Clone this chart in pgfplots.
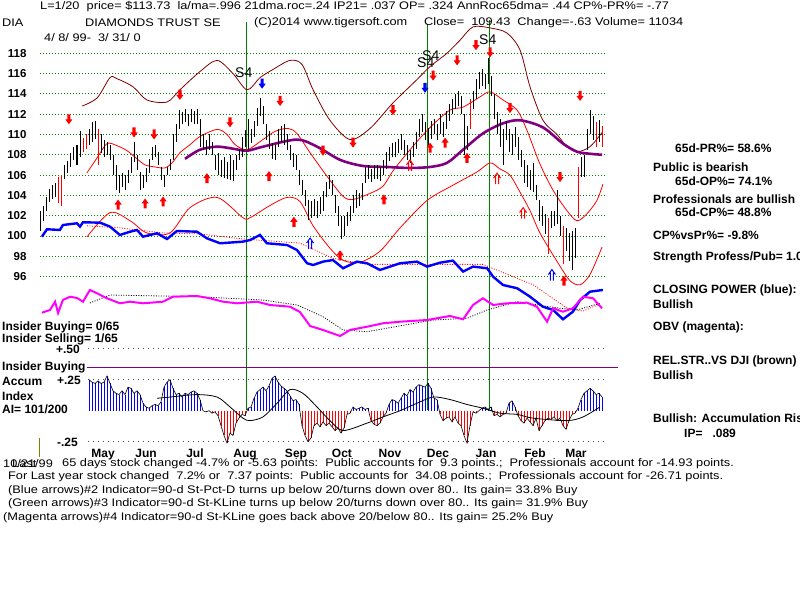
\documentclass[border=0pt]{standalone}
\usepackage{fontspec}
\setmainfont{Liberation Sans}
\newfontfamily\wide{Liberation Sans}[FakeStretch=1.16]
\usepackage{pgfplots}
\usepackage{pgfplotstable}
\pgfplotsset{compat=1.18}

\definecolor{tgreen}{HTML}{008000}
\definecolor{tred}{HTML}{FF0000}
\definecolor{tbrown}{HTML}{800000}
\definecolor{tpurple}{HTML}{800080}
\definecolor{tblue}{HTML}{0000FF}
\definecolor{tmag}{HTML}{FF00FF}
\definecolor{tolive}{HTML}{808000}

\newcommand{\reg}{\wide\fontsize{11}{12}\selectfont}
\newcommand{\bld}{\bfseries\fontsize{12}{13}\selectfont}

% signal arrows, centred on the point
\pgfdeclareplotmark{dnarrow}{%
  \pgfpathmoveto{\pgfpoint{-1.6pt}{5pt}}\pgfpathlineto{\pgfpoint{1.6pt}{5pt}}%
  \pgfpathlineto{\pgfpoint{1.6pt}{0pt}}\pgfpathlineto{\pgfpoint{3.6pt}{0pt}}%
  \pgfpathlineto{\pgfpoint{0pt}{-5pt}}\pgfpathlineto{\pgfpoint{-3.6pt}{0pt}}%
  \pgfpathlineto{\pgfpoint{-1.6pt}{0pt}}\pgfpathclose\pgfusepathqfill}
\pgfdeclareplotmark{uparrow}{%
  \pgfpathmoveto{\pgfpoint{-1.6pt}{-5pt}}\pgfpathlineto{\pgfpoint{1.6pt}{-5pt}}%
  \pgfpathlineto{\pgfpoint{1.6pt}{0pt}}\pgfpathlineto{\pgfpoint{3.6pt}{0pt}}%
  \pgfpathlineto{\pgfpoint{0pt}{5pt}}\pgfpathlineto{\pgfpoint{-3.6pt}{0pt}}%
  \pgfpathlineto{\pgfpoint{-1.6pt}{0pt}}\pgfpathclose\pgfusepathqfill}
\pgfdeclareplotmark{dblup}{%
  \pgfsetlinewidth{1pt}%
  \pgfpathmoveto{\pgfpoint{-1.5pt}{-6pt}}\pgfpathlineto{\pgfpoint{-1.5pt}{2pt}}%
  \pgfpathmoveto{\pgfpoint{1.5pt}{-6pt}}\pgfpathlineto{\pgfpoint{1.5pt}{2pt}}%
  \pgfpathmoveto{\pgfpoint{-3.5pt}{0pt}}\pgfpathlineto{\pgfpoint{0pt}{5pt}}%
  \pgfpathlineto{\pgfpoint{3.5pt}{0pt}}\pgfusepathqstroke}

\tikzset{txt/.style={anchor=west, inner sep=0pt, font=\reg},
         btxt/.style={anchor=west, inner sep=0pt, font=\bld}}

\pgfplotsset{panel/.style={at={(40pt,#1)}, anchor=south west, scale only axis,
  width=565pt, xmin=-0.333, xmax=188, axis line style={draw=none},
  tick style={draw=none}, clip=false, xtick=\empty}}

% daily bars: day, low, high
\pgfplotstableread{
i lo hi
0 100.5 102.5
1 101.5 103.0
2 102.5 103.8
3 103.3 104.6
4 103.6 105.0
5 103.8 105.2
6 103.2 105.8
7 103.0 106.0
8 105.6 107.0
9 106.2 107.4
10 106.8 108.2
11 107.5 108.8
12 107.0 109.0
13 107.8 110.3
14 108.3 109.7
15 108.6 110.0
16 109.0 110.5
17 109.3 111.2
18 109.6 111.3
19 107.0 110.5
20 108.2 110.0
21 107.8 109.5
22 108.0 109.3
23 107.5 109.0
24 106.0 108.0
25 104.5 107.0
26 104.2 106.0
27 104.8 106.2
28 104.5 106.0
29 105.2 106.5
30 106.2 107.8
31 107.3 109.3
32 106.5 108.0
33 104.5 106.3
34 104.7 106.0
35 105.3 106.7
36 106.2 107.6
37 107.5 108.8
38 107.8 109.0
39 107.0 108.3
40 105.5 106.8
41 104.8 106.0
42 106.0 106.8
43 106.5 107.6
44 107.5 110.0
45 109.3 111.0
46 110.5 112.4
47 111.0 112.2
48 111.2 112.5
49 110.8 112.0
50 111.2 112.5
51 111.0 112.3
52 111.0 112.5
53 108.8 111.5
54 108.5 110.0
55 108.0 109.5
56 108.5 110.0
57 108.0 109.3
58 106.5 108.0
59 106.0 108.2
60 105.8 107.5
61 105.7 107.8
62 105.6 107.3
63 105.5 108.0
64 105.4 107.5
65 106.5 108.0
66 107.5 108.6
67 107.8 109.8
68 108.8 110.4
69 108.5 111.5
70 109.2 110.5
71 109.8 111.3
72 110.8 112.6
73 111.8 113.6
74 111.0 112.8
75 109.5 111.0
76 108.6 110.3
77 107.6 109.2
78 107.5 109.0
79 108.8 110.5
80 109.3 110.8
81 109.0 111.0
82 108.5 110.0
83 107.5 109.0
84 106.8 108.2
85 106.5 108.0
86 105.0 106.5
87 104.0 105.5
88 103.0 104.5
89 101.6 103.5
90 101.8 103.4
91 102.0 103.6
92 101.8 103.4
93 102.2 103.8
94 102.5 104.4
95 103.8 105.3
96 104.6 106.0
97 104.0 105.5
98 102.3 104.0
99 101.0 103.0
100 99.7 102.0
101 100.0 102.0
102 101.0 102.4
103 101.5 103.0
104 102.3 104.0
105 102.8 104.5
106 103.0 104.2
107 103.5 105.2
108 105.2 106.8
109 105.6 107.0
110 105.3 106.6
111 105.6 107.0
112 105.6 107.0
113 105.4 106.8
114 106.0 107.5
115 106.6 108.3
116 107.4 108.8
117 107.8 109.2
118 107.8 109.3
119 108.2 109.6
120 108.5 110.0
121 108.0 109.5
122 107.5 109.0
123 107.2 108.5
124 107.8 109.3
125 108.6 110.2
126 109.8 111.5
127 110.2 112.0
128 109.5 111.2
129 109.0 110.6
130 109.6 111.3
131 110.0 111.5
132 109.5 111.0
133 110.0 112.0
134 109.8 111.2
135 110.5 112.3
136 111.3 113.0
137 112.0 113.5
138 112.5 114.0
139 112.8 114.3
140 112.0 113.8
141 108.0 112.0
142 108.5 110.8
143 110.5 113.5
144 112.5 114.3
145 113.5 115.5
146 114.5 116.2
147 114.8 116.5
148 114.5 116.0
149 115.0 117.5
150 113.8 115.8
151 111.5 114.0
152 110.0 112.2
153 108.8 111.5
154 107.0 110.5
155 109.5 111.3
156 108.3 110.5
157 108.0 110.0
158 108.8 110.7
159 107.5 109.8
160 106.8 108.5
161 105.2 107.5
162 104.8 107.0
163 104.5 106.5
164 104.3 107.2
165 103.5 105.0
166 101.5 103.5
167 101.0 103.0
168 100.2 102.2
169 98.2 101.8
170 100.8 102.5
171 101.0 102.5
172 101.2 104.5
173 100.0 102.0
174 97.2 101.0
175 98.5 100.8
176 97.5 100.3
177 96.6 100.5
178 97.8 100.8
179 101.8 106.8
180 105.8 107.8
181 105.8 108.0
182 108.5 110.5
183 110.0 112.4
184 109.5 111.8
185 108.8 111.2
186 109.3 111.4
187 108.8 110.8
}\bars

\pgfplotstableread{
i lo hi
6 103.2 105.8
7 103.0 106.0
14 108.3 109.7
15 108.6 110.0
19 107.0 110.5
143 110.5 113.5
169 98.2 101.8
174 97.2 101.0
179 101.8 106.8
185 108.8 111.2
187 108.8 110.8
}\redbars

% accumulation index
\pgfplotstableread{
i ai
16 .25
17 .23
18 .22
19 .24
20 .22
21 .23
22 .28
23 .22
24 .16
25 .14
26 .13
27 .16
28 .13
29 .19
30 .18
31 .14
32 .16
33 .13
34 .06
35 .03
36 .02
37 .04
38 .05
39 .04
40 .07
41 .19
42 .23
43 .25
44 .18
45 .13
46 .14
47 .11
48 .14
49 .13
50 .15
51 .16
52 .14
53 .09
54 .00
55 -.01
56 .00
57 -.02
58 -.01
59 -.04
60 -.12
61 -.20
62 -.26
63 -.18
64 -.20
65 -.10
66 -.06
67 -.03
68 -.04
69 .02
70 .03
71 .10
72 .15
73 .17
74 .19
75 .16
76 .20
77 .26
78 .28
79 .23
80 .20
81 .18
82 .16
83 .12
84 .08
85 .09
86 .05
87 -.12
88 -.20
89 -.25
90 -.22
91 -.12
92 -.10
93 -.13
94 -.09
95 -.12
96 -.10
97 -.13
98 -.16
99 -.14
100 -.18
101 -.14
102 -.03
103 -.02
104 .03
105 .01
106 .02
107 .03
108 .01
109 .02
110 -.08
111 -.11
112 -.12
113 -.10
114 -.05
115 -.02
116 .05
117 .09
118 .08
119 .06
120 .10
121 .14
122 .12
123 .17
124 .15
125 .19
126 .21
127 .20
128 .19
129 .22
130 .18
131 .10
132 .09
133 -.03
134 -.08
135 -.06
136 -.05
137 -.09
138 -.05
139 -.10
140 -.12
141 -.20
142 -.26
143 -.12
144 -.01
145 -.02
146 .00
147 .02
148 .03
149 .01
150 .03
151 -.04
152 -.03
153 -.05
154 -.03
155 -.02
156 .06
157 .08
158 .03
159 -.04
160 -.08
161 -.10
162 -.06
163 -.09
164 -.12
165 -.06
166 -.16
167 -.12
168 -.08
169 -.06
170 -.07
171 -.05
172 -.08
173 -.06
174 -.12
175 -.15
176 -.08
177 -.03
178 -.02
179 .02
180 .09
181 .14
182 .16
183 .18
184 .16
185 .13
186 .14
187 .11
}\accum

\begin{document}
\begin{tikzpicture}
% ---- texts and signal lines (pixel frame)
\begin{axis}[at={(0pt,0pt)}, anchor=south west, scale only axis, width=800pt, height=600pt,
  xmin=0, xmax=800, ymin=0, ymax=600, y dir=reverse, hide axis, clip=false]
\addplot[tgreen, line width=1pt] coordinates {(246,22) (246,410)};
\addplot[tgreen, line width=1pt] coordinates {(427,24) (427,410)};
\addplot[tgreen, line width=1pt] coordinates {(489,20) (489,410)};
\addplot[tolive, line width=1pt] coordinates {(39,438) (39,457)};
\node[txt] at (axis cs:40,7) {L=1/20\ \ price= \$113.73\ \ la/ma=.996 21dma.roc=.24 IP21= .037 OP= .324 AnnRoc65dma= .44 CP\%-PR\%= -.77};
\node[txt] at (axis cs:2,23) {DIA};
\node[txt] at (axis cs:85,23) {DIAMONDS TRUST SE};
\node[txt] at (axis cs:254,23) {(C)2014 www.tigersoft.com};
\node[txt] at (axis cs:424,23) {Close=\ \ 109.43\ \ Change=-.63 Volume= 11034};
\node[txt] at (axis cs:44,38) {4/ 8/ 99-\ \ 3/ 31/ 0};
\node[txt, font=\fontsize{14}{15}\selectfont] at (axis cs:235,73) {S4};
\node[txt, font=\fontsize{14}{15}\selectfont] at (axis cs:417,63) {S4};
\node[txt, font=\fontsize{14}{15}\selectfont] at (axis cs:422,56) {S4};
\node[txt, font=\fontsize{14}{15}\selectfont] at (axis cs:479,40) {S4};
% left panel
\node[btxt] at (axis cs:2,327) {Insider Buying= 0/65};
\node[btxt] at (axis cs:2,339) {Insider Selling= 1/65};
\node[btxt, anchor=east] at (axis cs:80,349) {+.50};
\node[btxt] at (axis cs:2,367) {Insider Buying};
\node[btxt] at (axis cs:2,381) {Accum};
\node[btxt, anchor=east] at (axis cs:81,380) {+.25};
\node[btxt] at (axis cs:2,396) {Index};
\node[btxt] at (axis cs:2,409) {AI= 101/200};
\node[btxt, anchor=east] at (axis cs:78,442) {-.25};
% right panel
\node[btxt] at (axis cs:675,148) {65d-PR\%= 58.6\%};
\node[btxt] at (axis cs:653,167) {Public is bearish};
\node[btxt] at (axis cs:675,181) {65d-OP\%= 74.1\%};
\node[btxt] at (axis cs:653,199) {Professionals are bullish};
\node[btxt] at (axis cs:675,212) {65d-CP\%= 48.8\%};
\node[btxt] at (axis cs:653,235) {CP\%vsPr\%= -9.8\%};
\node[btxt] at (axis cs:653,257) {Strength Profess/Pub= 1.0};
\node[btxt] at (axis cs:653,290) {CLOSING POWER (blue):};
\node[btxt] at (axis cs:653,304) {Bullish};
\node[btxt] at (axis cs:653,327) {OBV (magenta):};
\node[btxt] at (axis cs:653,361) {REL.STR..VS DJI (brown)};
\node[btxt] at (axis cs:653,375) {Bullish};
\node[btxt] at (axis cs:653,419) {Bullish: Accumulation Rising};
\node[btxt] at (axis cs:684,433) {IP=\ \ \ .089};
% bottom text
\node[txt] at (axis cs:3,464) {10/21/99};
\node[txt] at (axis cs:12,464) {Last};
\node[txt] at (axis cs:62,464) {65 days stock changed -4.7\% or -5.63 points:\ \ Public accounts for\ \ 9.3 points.;\ \ Professionals account for -14.93 points.};
\node[txt] at (axis cs:8,477) {For Last year stock changed\ \ 7.2\% or\ \ 7.37 points:\ \ Public accounts for\ \ 34.08 points.;\ \ Professionals account for -26.71 points.};
\node[txt] at (axis cs:8,491) {(Blue arrows)\#2 Indicator=90-d St-Pct-D turns up below 20/turns down over 80.. Its gain= 33.8\% Buy};
\node[txt] at (axis cs:8,504) {(Green arrows)\#3 Indicator=90-d St-KLine turns up below 20/turns down over 80.. Its gain= 31.9\% Buy};
\node[txt] at (axis cs:3,518) {(Magenta arrows)\#4 Indicator=90-d St-KLine goes back above 20/below 80.. Its gain= 25.2\% Buy};
\end{axis}

% ---- price panel
\begin{axis}[panel=260pt, height=300pt, ymin=89.75, ymax=119.31,
  ytick={96,98,...,118}, ymajorgrids,
  grid style={tgreen, line width=0.8pt, dash pattern=on 0.8pt off 2.2pt},
  yticklabel style={font=\bfseries\fontsize{11.5}{12}\selectfont, xshift=-10pt},
  /pgf/number format/assume math mode=true]
% brown upper band
\addplot[tbrown, line width=0.8pt, smooth] coordinates {
(13.7,112.8) (18.7,113.6) (23,115.6) (25.3,115.5) (30.7,114.7) (35.3,113.4) (42,113.2)
(46.3,114.4) (53,116.2) (58.7,117.3) (64,116.0) (68.7,114.4) (73,115.6) (77.3,116.4)
(83,117.3) (87,116.9) (90.7,114.4) (96.3,111.4) (103,109.5) (109.7,110.6) (117.3,113.1)
(125.3,115.4) (129.7,116.7) (135.3,118.0) (139.7,119.3) (144,120.6) (149.7,120.5)
(155.3,120.0) (159.7,118.3) (163,114.7) (167.3,111.4) (172,110.0) (175.3,108.8)
(178.7,108.3) (183,108.8) (187.3,110.3)};
% 21-day average
\addplot[tred, line width=0.8pt, smooth] coordinates {
(15.3,106.2) (18.7,107.7) (22,109.1) (25.3,108.9) (28.7,108.4) (32,107.6) (34.7,107.0)
(38,106.8) (41.3,106.7) (43.7,107.2) (46.3,108.2) (49.7,109.0) (53,109.8) (58.7,110.5)
(62,110.0) (64.7,109.0) (68.7,108.5) (74,109.5) (78,110.3) (82.3,110.6) (85.3,110.1)
(89.7,108.2) (95.3,105.9) (100.7,103.9) (104,103.6) (109.7,104.2) (114,104.9)
(117.3,106.4) (123,108.5) (129.7,110.7) (136.3,112.4) (140.7,112.7) (146.3,113.7)
(149.7,114.2) (154,113.4) (158.7,112.4) (162,110.4) (166.3,107.1) (170.7,104.5)
(175.3,102.5) (178.7,101.5) (182,102.2) (185.3,103.5) (187.3,105.1)};
% lower band
\addplot[tred, line width=0.8pt, smooth] coordinates {
(15.3,99.9) (23,102.3) (29.7,101.5) (35.3,100.3) (43,100.3) (49.7,102.8) (58.7,103.8)
(67.3,101.8) (69.7,101.8) (76.3,103.0) (82,103.8) (86.3,103.4) (90.7,101.0) (96.3,98.8)
(100.7,97.6) (106.3,97.4) (113,98.5) (119.7,100.8) (128.7,103.5) (137.3,105.0)
(145.3,106.3) (149.7,107.2) (153,106.6) (156.3,106.0) (159.7,104.3) (163,102.5)
(166.3,100.3) (172,97.5) (176.3,95.6) (179.7,95.2) (183,96.2) (187,98.9)};
% closing power average
\addplot[tred, line width=0.8pt, dash pattern=on 1pt off 1.5pt] coordinates {
(15.3,101.0) (26.3,100.8) (40.7,100.3) (53,100.2) (67.3,99.7) (86.3,99.3) (97.3,97.8)
(108.7,97.2) (130.7,97.2) (147.3,97.2) (164,95.2) (175.3,92.9) (180.7,92.6) (186.3,93.3)};
% 65-day average
\addplot[tpurple, line width=2.6pt, smooth] coordinates {
(48,107.6) (53,108.5) (58.7,108.8) (64,108.6) (68.7,108.4) (74,108.8) (85.3,109.5)
(92,108.8) (99.7,107.5) (107.3,106.9) (115.3,106.8) (123,106.7) (129.7,106.8)
(135.3,107.2) (140.7,108.5) (147.3,110.1) (154,111.1) (159.7,111.4) (167.3,110.7)
(174,109.1) (178.7,108.3) (183,108.1) (187,108.0)};
% closing power
\addplot[tblue, line width=2.4pt] coordinates {
(0.3,99.93) (2,100.66) (6.3,100.59) (7.3,101.08) (12,101.25) (13,100.92) (14,101.35)
(19.7,101.31) (23,100.92) (26.3,100.1) (29.7,100.42) (32,100.59) (34,99.93)
(38.7,100.27) (42,99.7) (45.3,100.49) (52,100.42) (55.3,99.77) (59.7,99.28)
(67.3,99.44) (69.7,99.6) (73,100.1) (75.3,99.28) (82,99.11) (85.3,98.62) (88.7,97.31)
(90.7,97.14) (94,97.47) (97.3,97.63) (100.7,96.82) (105.3,97.47) (108.7,97.31)
(113,96.65) (119.7,97.31) (125.3,97.47) (128.7,96.98) (133,97.37) (137.3,97.57)
(140.7,96.49) (144,96.98) (148.7,96.82) (150.7,95.99) (154,95.17) (158.7,94.85)
(163,94.02) (167.3,93.03) (170.7,92.71) (174,91.79) (177.3,92.54) (179.7,93.69)
(183,94.51) (187.3,94.68)};
% daily high-low bars
\addplot[draw=none, mark=none, forget plot,
  error bars/.cd, y dir=plus, y explicit, error mark=none,
  error bar style={draw=black, solid, line width=1pt}]
  table[x=i, y=lo, y error plus expr=\thisrow{hi}-\thisrow{lo}] {\bars};
\addplot[draw=none, mark=none, forget plot,
  error bars/.cd, y dir=plus, y explicit, error mark=none,
  error bar style={draw=tred, solid, line width=1pt}]
  table[x=i, y=lo, y error plus expr=\thisrow{hi}-\thisrow{lo}] {\redbars};
% signals
\addplot[only marks, mark=dnarrow, color=tred] coordinates {
(9.3,111.5) (46.3,113.9) (31,110.2) (37.7,110.0) (63,111.2) (79.7,113.3) (94,108.4)
(104,109.2) (117.3,112.4) (130.7,115.8) (138.7,117.3) (145,118.8) (149.7,118.1)
(156.3,112.6) (173,105.8) (179.7,113.8)};
\addplot[only marks, mark=dnarrow, color=tblue] coordinates {(73.7,115.0) (128,114.6)};
\addplot[only marks, mark=uparrow, color=tred] coordinates {
(25.7,103.1) (34.7,103.2) (40.7,103.4) (55.3,105.7) (76,105.9) (84.3,101.4) (99.7,98.1)
(114.3,103.6) (129.7,108.7) (134.7,109.2) (142,107.7) (174.3,95.6)};
\addplot[only marks, mark=dblup, color=tred] coordinates {(123,107.0) (152,105.7) (160.7,102.3)};
\addplot[only marks, mark=dblup, color=tblue] coordinates {(89.7,99.3) (170.3,96.2)};
\end{axis}

% ---- OBV panel
\begin{axis}[panel=260pt, height=80pt, ymin=0, ymax=80, ytick=\empty]
\addplot[black, line width=0.8pt, dash pattern=on 1pt off 1.5pt] coordinates {
(16.3,37) (23,45) (52,43.3) (74,40) (85.3,35) (94,23.3) (100.7,10) (108.7,8.3)
(130.7,20) (142,21.7) (148.7,30) (158.7,38.3) (173,31.7) (178.7,30) (186.3,36.7)};
\addplot[tmag, line width=2pt] coordinates {
(0.3,27.3) (3,30) (4.7,38.3) (5.7,27) (7.3,40) (9.7,43.3) (12,42) (14,38.3) (16.3,50)
(18.7,46.7) (22,41.7) (26.3,36.7) (29.7,38.3) (34,36.7) (40.7,38.3) (44,43.3) (52,44)
(56.3,41.7) (60.7,38.3) (65.3,36.7) (72,38.3) (76.3,35) (83,33.3) (86.3,28) (89.7,14)
(94,10) (99.7,4) (103,10) (108.7,13.3) (114,16.7) (119.7,18.3) (128.7,20) (136.3,24)
(140.7,20.7) (144,35) (147.3,41.7) (150.7,35) (155.3,36.7) (162,37.3) (165.3,33.3)
(168.7,18.3) (170.7,31.7) (174,28.3) (177.3,31.7) (180.7,43.3) (184,41.7) (187,31.7)};
\end{axis}

% ---- accumulation index panel
\begin{axis}[panel=150pt, height=110pt, ymin=-0.317, ymax=0.570, ytick=\empty,
  xtick={20.67,35,51.33,68,85,100.33,116.33,132.33,148.33,164.67,178.33},
  xticklabels={May,Jun,Jul,Aug,Sep,Oct,Nov,Dec,Jan,Feb,Mar},
  xticklabel style={font=\bfseries\fontsize{12}{13}\selectfont, anchor=base, yshift=-7pt}]
\addplot[black!70, line width=0.8pt, dash pattern=on 0.8pt off 4.2pt] coordinates {(15.7,0.5) (188,0.5)};
\addplot[black!70, line width=0.8pt, dash pattern=on 0.8pt off 4.2pt] coordinates {(15.7,0.25) (188,0.25)};
\addplot[black!70, line width=0.8pt, dash pattern=on 0.8pt off 4.2pt] coordinates {(15.7,-0.25) (188,-0.25)};
\addplot[tpurple, line width=1pt] coordinates {(15.3,0.35) (192.3,0.35)};
\addplot[ycomb, tblue, line width=1pt, restrict y to domain=0:1] table[x=i, y=ai] {\accum};
\addplot[ycomb, tred, line width=1pt, restrict y to domain=-1:0] table[x=i, y=ai] {\accum};
\addplot[black, line width=0.6pt] table[x=i, y=ai] {\accum};
\addplot[black, line width=0.8pt, smooth] coordinates {
(38.7,.10) (43,.11) (52,.13) (58.7,.11) (63,.03) (67.3,-.06) (69.7,-.08) (74,-.05)
(78.7,.06) (83,.17) (87.3,.14) (92,.03) (96.3,-.08) (100.7,-.16) (108.7,-.10)
(114,-.05) (119.7,.00) (125.3,.06) (130.7,.11) (136.3,.09) (142,.05) (147.3,.02)
(153,-.02) (158.7,-.03) (164,-.06) (175.3,-.08) (180.7,-.05) (186.3,.03)};
\end{axis}

\pgfresetboundingbox
\useasboundingbox (0,0) rectangle (800pt,600pt);
\end{tikzpicture}
\end{document}
